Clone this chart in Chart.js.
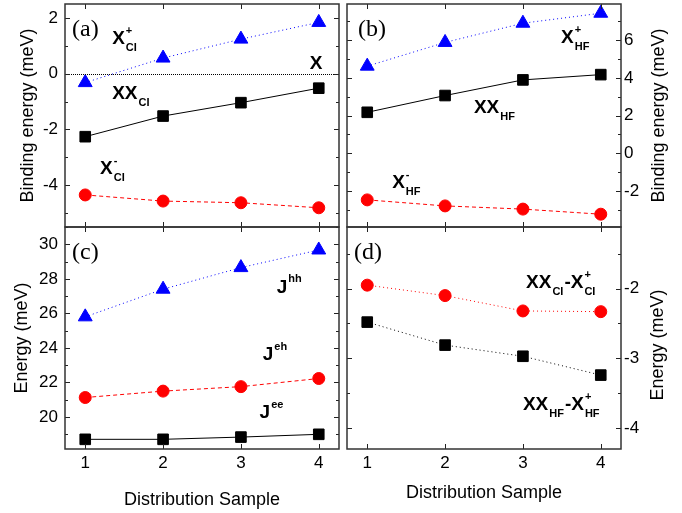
<!DOCTYPE html>
<html>
<head>
<meta charset="utf-8">
<script src="https://cdn.jsdelivr.net/npm/chart.js@4"></script>
<style>
html, body { margin: 0; padding: 0; background: #fff; }
#wrap { position: relative; width: 682px; height: 513px; }
#wrap canvas { position: absolute; left: 0; top: 0; }
</style>
</head>
<body>
<div id="wrap">
  <canvas id="pa" width="682" height="513"></canvas>
  <canvas id="pb" width="682" height="513"></canvas>
  <canvas id="pc" width="682" height="513"></canvas>
  <canvas id="pd" width="682" height="513"></canvas>
</div>
<script>
// x = distribution sample
const samples = [1, 2, 3, 4];

// (a) binding energies, CI
const xpCI = [-0.32, 0.56, 1.24, 1.84];
const xxCI = [-2.26, -1.52, -1.04, -0.52];
const xmCI = [-4.35, -4.57, -4.63, -4.81];

// (b) binding energies, HF
const xpHF = [4.62, 5.88, 6.9, 7.43];
const xxHF = [2.17, 3.06, 3.89, 4.17];
const xmHF = [-2.48, -2.8, -2.97, -3.24];

// (c) Coulomb energies
const jhh = [25.8, 27.4, 28.65, 29.67];
const jeh = [21.13, 21.5, 21.76, 22.23];
const jee = [18.71, 18.71, 18.84, 19.0];

// (d) XX - X+
const dCI = [-1.95, -2.1, -2.32, -2.33];
const dHF = [-2.48, -2.81, -2.97, -3.24];

// tick labels
const yTicksA = [-4, -2, 0, 2];
const yTicksB = [-2, 0, 2, 4, 6];
const yTicksC = [20, 22, 24, 26, 28, 30];
const yTicksD = [-4, -3, -2];
const zeroLine = 0;

const SANS = '"Liberation Sans", Arial, sans-serif';
const SERIF = '"Liberation Serif", "Times New Roman", serif';

function series(values, color, shape, radius, dash) {
  return {
    data: samples.map((s, i) => ({ x: s, y: values[i] })),
    borderColor: color,
    backgroundColor: color,
    pointBorderColor: color,
    borderWidth: 1,
    borderDash: dash,
    pointStyle: shape,
    pointRadius: radius,
    pointBorderWidth: 1,
    tension: 0,
    fill: false
  };
}

function drawRich(ctx, px, py, parts) {
  let cx = px;
  ctx.fillStyle = '#000';
  ctx.textBaseline = 'middle';
  ctx.textAlign = 'left';
  parts.forEach(p => {
    if (p.t) {
      ctx.font = 'bold 19px ' + SANS;
      ctx.fillText(p.t, cx, py);
      cx += ctx.measureText(p.t).width;
    } else {
      ctx.font = 'bold 11px ' + SANS;
      let w = 0;
      if (p.sup) { ctx.fillText(p.sup, cx + 1, py - 8); w = Math.max(w, ctx.measureText(p.sup).width); }
      if (p.sub) { ctx.fillText(p.sub, cx + 1, py + 9); w = Math.max(w, ctx.measureText(p.sub).width); }
      cx += w + 2;
    }
  });
}

const framePlugin = {
  id: 'frame',
  afterDraw(chart, args, opts) {
    const { ctx, chartArea: a, scales: { x, y } } = chart;
    ctx.save();

    if (opts.zero) {
      const py = Math.round(y.getPixelForValue(zeroLine)) + 0.5;
      ctx.strokeStyle = '#000';
      ctx.lineWidth = 1;
      ctx.setLineDash([1, 1]);
      ctx.beginPath();
      ctx.moveTo(a.left, py);
      ctx.lineTo(a.right, py);
      ctx.stroke();
      ctx.setLineDash([]);
    }

    // inward ticks on all four sides
    ctx.strokeStyle = '#222';
    ctx.lineWidth = 1;
    ctx.beginPath();
    x.ticks.forEach(t => {
      const px = Math.round(x.getPixelForValue(t.value)) + 0.5;
      ctx.moveTo(px, a.bottom); ctx.lineTo(px, a.bottom - 5);
      ctx.moveTo(px, a.top); ctx.lineTo(px, a.top + 5);
    });
    const yt = y.ticks.map(t => t.value);
    yt.forEach(v => {
      const py = Math.round(y.getPixelForValue(v)) + 0.5;
      ctx.moveTo(a.left, py); ctx.lineTo(a.left + 5, py);
      ctx.moveTo(a.right, py); ctx.lineTo(a.right - 5, py);
    });
    const step = yt[1] - yt[0];
    for (let v = yt[0] - step / 2; v <= y.max; v += step) {
      if (v < y.min) continue;
      const py = Math.round(y.getPixelForValue(v)) + 0.5;
      ctx.moveTo(a.left, py); ctx.lineTo(a.left + 3, py);
      ctx.moveTo(a.right, py); ctx.lineTo(a.right - 3, py);
    }
    ctx.stroke();

    ctx.strokeStyle = '#333';
    ctx.lineWidth = 1.5;
    ctx.strokeRect(a.left, a.top, a.right - a.left, a.bottom - a.top);

    // panel letter
    ctx.fillStyle = '#000';
    ctx.font = '24px ' + SERIF;
    ctx.textBaseline = 'middle';
    ctx.textAlign = 'left';
    ctx.fillText(opts.letter, a.left + opts.letterDx, a.top + 26);

    // right-hand axis title, reading upwards
    if (opts.rightTitle) {
      ctx.save();
      ctx.translate(opts.rightTitleX, (a.top + a.bottom) / 2 + (opts.rightTitleDy || 0));
      ctx.rotate(-Math.PI / 2);
      ctx.font = '18px ' + SANS;
      ctx.textAlign = 'center';
      ctx.textBaseline = 'middle';
      ctx.fillText(opts.rightTitle, 0, 0);
      ctx.restore();
    }

    (opts.labels || []).forEach(l => {
      drawRich(ctx, x.getPixelForValue(l.x), y.getPixelForValue(l.y), l.parts);
    });
    ctx.restore();
  }
};

function noPad(s) {
  s.paddingTop = 0; s.paddingBottom = 0; s.paddingLeft = 0; s.paddingRight = 0;
}

function makeChart(id, cfg) {
  const yScale = {
    type: 'linear',
    position: cfg.yPos,
    min: cfg.yMin,
    max: cfg.yMax,
    afterBuildTicks: s => { s.ticks = cfg.yTicks.map(v => ({ value: v })); },
    afterFit: s => { s.width = cfg.yPos === 'left' ? 65 : 61; noPad(s); },
    grid: { display: false, drawTicks: false },
    border: { display: false },
    ticks: { font: { family: SANS, size: 17 }, color: '#000', padding: cfg.yPos === 'left' ? 7 : 3 },
    title: cfg.leftTitle
      ? { display: true, text: cfg.leftTitle, font: { family: SANS, size: 18 }, color: '#000', padding: { top: cfg.leftTitlePad, bottom: 0 } }
      : { display: false }
  };
  const xScale = {
    type: 'linear',
    position: 'bottom',
    min: 0.74,
    max: 4.26,
    afterBuildTicks: s => { s.ticks = samples.map(v => ({ value: v })); },
    afterFit: s => { s.height = cfg.bottom ? 64 : 0; noPad(s); },
    grid: { display: false, drawTicks: false },
    border: { display: false },
    ticks: { display: cfg.bottom, font: { family: SANS, size: 17 }, color: '#000', padding: 4 },
    title: cfg.bottom
      ? { display: true, text: 'Distribution Sample', font: { family: SANS, size: 18 }, color: '#000', padding: { top: 0, bottom: cfg.xTitlePad } }
      : { display: false }
  };
  return new Chart(document.getElementById(id), {
    type: 'line',
    data: { datasets: cfg.datasets },
    options: {
      responsive: false,
      animation: false,
      devicePixelRatio: 1,
      layout: { padding: cfg.padding, autoPadding: false },
      plugins: {
        legend: { display: false },
        tooltip: { enabled: false },
        frame: cfg.frame
      },
      scales: { x: xScale, y: yScale }
    },
    plugins: [framePlugin]
  });
}

const BLUE = '#0000ff', RED = '#ff0000', BLACK = '#000000';
const DOT = [1, 3], DASH = [4, 3];
const TRI = 8, SQ = 7.5, CIR = 6;

makeChart('pa', {
  padding: { left: 0, right: 343, top: 4, bottom: 286 },
  yPos: 'left', yMin: -5.5, yMax: 2.5, yTicks: yTicksA,
  leftTitle: 'Binding energy (meV)', leftTitlePad: 17,
  bottom: false,
  datasets: [
    series(xpCI, BLUE, 'triangle', TRI, DOT),
    series(xxCI, BLACK, 'rect', SQ, []),
    series(xmCI, RED, 'circle', CIR, DASH)
  ],
  frame: {
    letter: '(a)', letterDx: 7, zero: true,
    labels: [
      { x: 1.346, y: 1.24, parts: [{ t: 'X' }, { sup: '+', sub: 'CI' }] },
      { x: 3.885, y: 0.36, parts: [{ t: 'X' }] },
      { x: 1.346, y: -0.72, parts: [{ t: 'XX' }, { sub: 'CI' }] },
      { x: 1.19, y: -3.42, parts: [{ t: 'X' }, { sup: '-', sub: 'CI' }] }
    ]
  }
});

makeChart('pb', {
  padding: { left: 347, right: 0, top: 4, bottom: 286 },
  yPos: 'right', yMin: -3.92, yMax: 7.92, yTicks: yTicksB,
  bottom: false,
  datasets: [
    series(xpHF, BLUE, 'triangle', TRI, DOT),
    series(xxHF, BLACK, 'rect', SQ, []),
    series(xmHF, RED, 'circle', CIR, DASH)
  ],
  frame: {
    letter: '(b)', letterDx: 11,
    rightTitle: 'Binding energy (meV)', rightTitleX: 659,
    labels: [
      { x: 3.49, y: 6.12, parts: [{ t: 'X' }, { sup: '+', sub: 'HF' }] },
      { x: 2.37, y: 2.4, parts: [{ t: 'XX' }, { sub: 'HF' }] },
      { x: 1.32, y: -1.57, parts: [{ t: 'X' }, { sup: '-', sub: 'HF' }] }
    ]
  }
});

makeChart('pc', {
  padding: { left: 0, right: 343, top: 227, bottom: 0 },
  yPos: 'left', yMin: 18.15, yMax: 31, yTicks: yTicksC,
  leftTitle: 'Energy (meV)', leftTitlePad: 11,
  bottom: true, xTitlePad: 2,
  datasets: [
    series(jhh, BLUE, 'triangle', TRI, DOT),
    series(jeh, RED, 'circle', CIR, DASH),
    series(jee, BLACK, 'rect', SQ, [])
  ],
  frame: {
    letter: '(c)', letterDx: 7,
    labels: [
      { x: 3.46, y: 27.51, parts: [{ t: 'J' }, { sup: 'hh' }] },
      { x: 3.28, y: 23.58, parts: [{ t: 'J' }, { sup: 'eh' }] },
      { x: 3.24, y: 20.23, parts: [{ t: 'J' }, { sup: 'ee' }] }
    ]
  }
});

makeChart('pd', {
  padding: { left: 347, right: 0, top: 227, bottom: 0 },
  yPos: 'right', yMin: -4.3, yMax: -1.116, yTicks: yTicksD,
  bottom: true, xTitlePad: 9,
  datasets: [
    series(dCI, RED, 'circle', CIR, DOT),
    series(dHF, BLACK, 'rect', SQ, DOT)
  ],
  frame: {
    letter: '(d)', letterDx: 7,
    rightTitle: 'Energy (meV)', rightTitleX: 658, rightTitleDy: 7,
    labels: [
      { x: 3.04, y: -1.92, parts: [{ t: 'XX' }, { sub: 'CI' }, { t: '-X' }, { sup: '+', sub: 'CI' }] },
      { x: 3.0, y: -3.67, parts: [{ t: 'XX' }, { sub: 'HF' }, { t: '-X' }, { sup: '+', sub: 'HF' }] }
    ]
  }
});
</script>
</body>
</html>
